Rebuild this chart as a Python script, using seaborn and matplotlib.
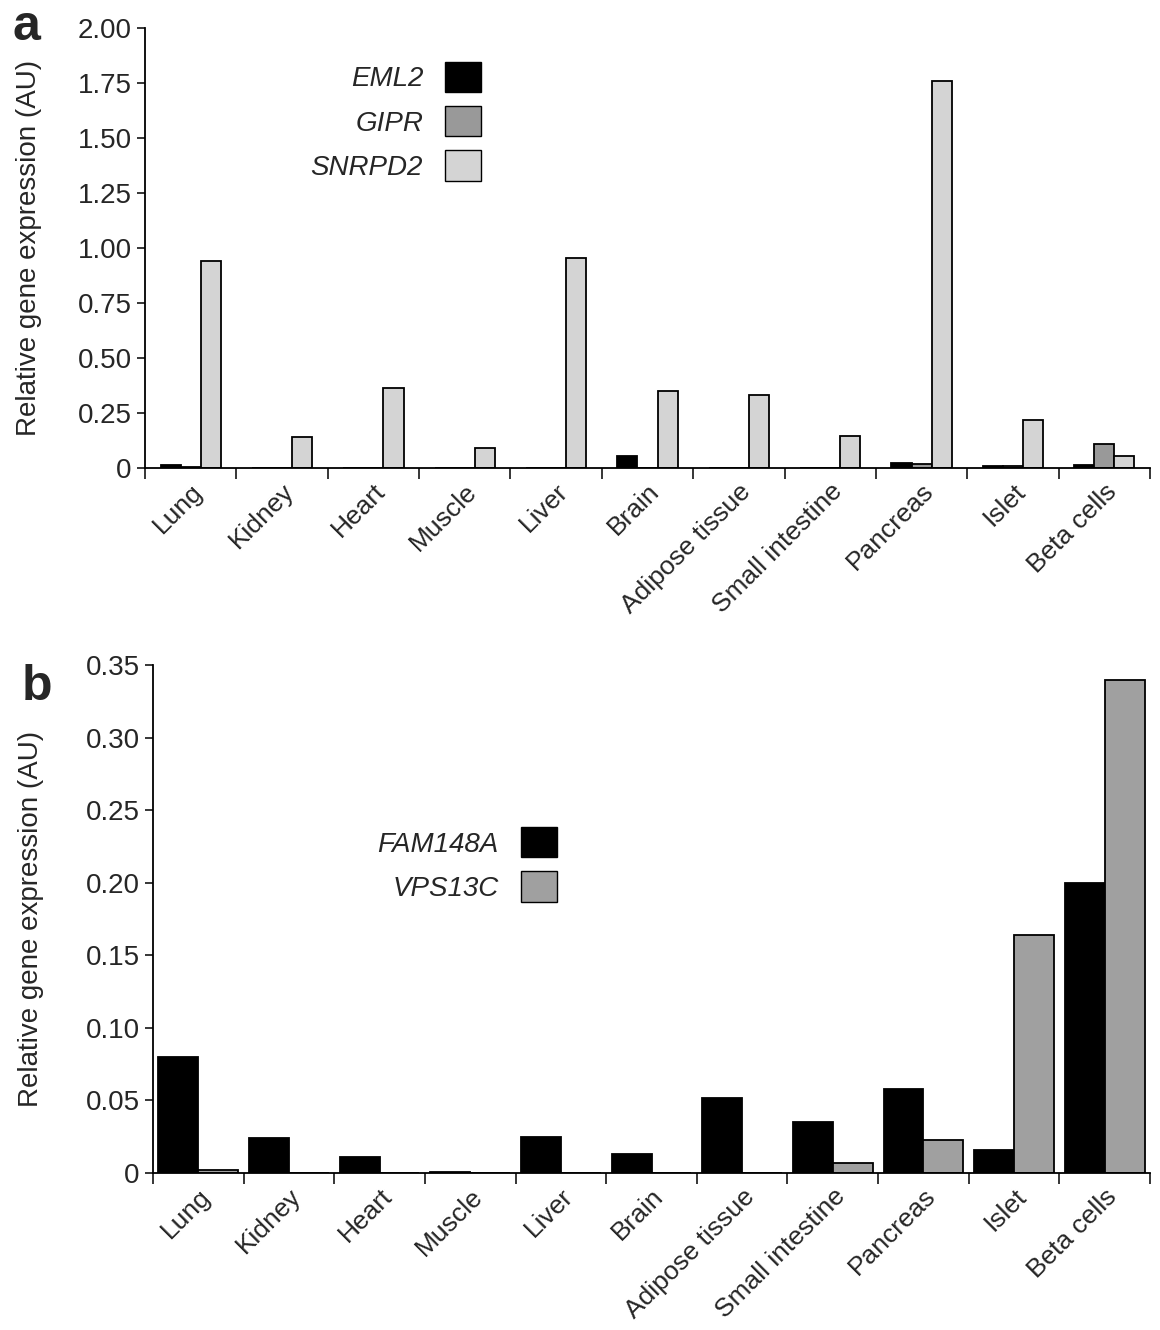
import matplotlib
matplotlib.use("Agg")
import matplotlib.pyplot as plt
import seaborn as sns
import pandas as pd
import numpy as np
from matplotlib.patches import Patch

tissues = ["Lung","Kidney","Heart","Muscle","Liver","Brain","Adipose tissue",
           "Small intestine","Pancreas","Islet","Beta cells"]
eml2   = [0.015,0.002,0.002,0.0,0.002,0.055,0.002,0.002,0.025,0.008,0.015]
gipr   = [0.003,0.0,0.0,0.0,0.0,0.0,0.0,0.0,0.02,0.008,0.11]
snrpd2 = [0.94,0.14,0.365,0.09,0.955,0.35,0.33,0.145,1.76,0.22,0.055]
fam148a = [0.08,0.024,0.011,0.001,0.025,0.013,0.052,0.035,0.058,0.016,0.2]
vps13c  = [0.002,0.0,0.0,0.0,0.0,0.0,0.0,0.007,0.023,0.164,0.34]
yticks_a = [0,0.25,0.5,0.75,1.0,1.25,1.5,1.75,2.0]
ylabels_a = ["0","0.25","0.50","0.75","1.00","1.25","1.50","1.75","2.00"]
yticks_b = [0,0.05,0.1,0.15,0.2,0.25,0.3,0.35]
ylabels_b = ["0","0.05","0.10","0.15","0.20","0.25","0.30","0.35"]

sns.set_style("white")
plt.rcParams['font.family'] = ['Liberation Sans', 'DejaVu Sans']

fig = plt.figure(figsize=(11.6, 13.3), dpi=100)
W, H = 1160, 1330
axa = fig.add_axes([145/W, 1-468/H, (1150-145)/W, (468-28)/H])
axb = fig.add_axes([153/W, 1-1173/H, (1150-153)/W, (1173-665)/H])

dfa = pd.DataFrame({"tissue": tissues*3,
                    "gene": ["EML2"]*11+["GIPR"]*11+["SNRPD2"]*11,
                    "val": eml2+gipr+snrpd2})
dfb = pd.DataFrame({"tissue": tissues*2,
                    "gene": ["FAM148A"]*11+["VPS13C"]*11,
                    "val": fam148a+vps13c})
pa = ["#000000", "#999999", "#d4d4d4"]
pb = ["#000000", "#a0a0a0"]
sns.barplot(data=dfa, x="tissue", y="val", hue="gene", palette=pa, ax=axa,
            width=0.66, edgecolor="black", linewidth=1.3, legend=False, gap=0)
sns.barplot(data=dfb, x="tissue", y="val", hue="gene", palette=pb, ax=axb,
            width=0.88, edgecolor="black", linewidth=1.3, legend=False, gap=0)

for ax, yt, yl, ymax, lp in [(axa, yticks_a, ylabels_a, 2.0, 26), (axb, yticks_b, ylabels_b, 0.35, 30)]:
    ax.set_xlim(-0.5, 10.5)
    ax.set_ylim(0, ymax)
    ax.set_yticks(yt)
    ax.set_yticklabels(yl, fontsize=20)
    ax.set_xticks(range(11))
    ax.set_xticklabels(tissues, rotation=45, ha="right", rotation_mode="anchor", fontsize=19)
    ax.tick_params(axis="x", which="major", length=0, pad=8)
    ax.set_xticks(np.arange(-0.5, 11, 1), minor=True)
    ax.tick_params(axis="x", which="minor", length=8, width=1.3, direction="out", bottom=True)
    ax.tick_params(axis="y", length=6, width=1.3, direction="out", left=True)
    for s in ["top", "right"]:
        ax.spines[s].set_visible(False)
    for s in ["left", "bottom"]:
        ax.spines[s].set_linewidth(1.3)
        ax.spines[s].set_color("black")
    ax.set_xlabel("")
    ax.set_ylabel("Relative gene expression (AU)", fontsize=20, labelpad=lp)

axa.legend(handles=[Patch(facecolor=c, edgecolor="black", label=l) for c, l in zip(pa, ["EML2","GIPR","SNRPD2"])],
           loc="upper left", bbox_to_anchor=(0.14, 0.98), frameon=False, markerfirst=False,
           prop={"size": 20, "style": "italic"}, handlelength=1.3, handleheight=1.3, labelspacing=0.5)
axb.legend(handles=[Patch(facecolor=c, edgecolor="black", label=l) for c, l in zip(pb, ["FAM148A","VPS13C"])],
           loc="upper left", bbox_to_anchor=(0.2, 0.73), frameon=False, markerfirst=False,
           prop={"size": 20, "style": "italic"}, handlelength=1.3, handleheight=1.3, labelspacing=0.5)

fig.text(12/W, 1-40/H, "a", fontsize=36, fontweight="bold")
fig.text(22/W, 1-700/H, "b", fontsize=36, fontweight="bold")
fig.savefig("out.png", dpi=100)
